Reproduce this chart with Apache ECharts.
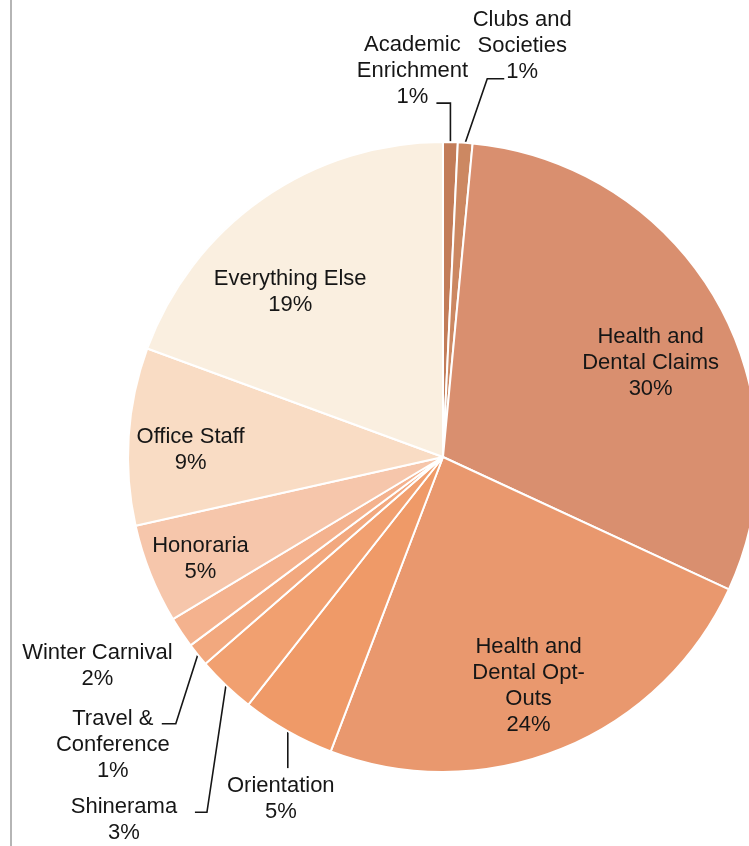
<!DOCTYPE html>
<html><head><meta charset="utf-8">
<style>html,body{margin:0;padding:0;background:#fff}#chart{width:749px;height:846px}</style>
<script src="https://cdn.jsdelivr.net/npm/echarts@6/dist/echarts.min.js"></script>
</head><body><div id="chart"></div>
<script>
// ---- data ----
const categories = ['Academic Enrichment','Clubs and Societies','Health and Dental Claims','Health and Dental Opt-Outs','Orientation','Shinerama','Travel & Conference','Winter Carnival','Honoraria','Office Staff','Everything Else'];
const labelTexts = ['Academic\nEnrichment','Clubs and\nSocieties','Health and\nDental Claims','Health and\nDental Opt-\nOuts','Orientation','Shinerama','Travel &\nConference','Winter Carnival','Honoraria','Office Staff','Everything Else'];
const values = [0.75,0.75,30.4,23.9,4.8,3.0,1.2,1.6,5.1,9.1,19.4];

// ---- style ----
const colors = ['#c27c58','#cc8862','#d98f6f','#e9986e','#ef9a68','#f1a070','#f2a87e','#f4b28e','#f6c6ab','#f9dcc4','#faefe0'];
const CX = 443, CY = 457, R = 315;
// inside: radius factor + nudge; outside: leader legs + label offset from leader end
const placement = [
  {type:'out', leg1:[0,-39], leg2:-14, lab:[-24,-32]},
  {type:'out', leg1:[22,-64], leg2:17, lab:[18,-33]},
  {type:'in', rf:0.72, nudge:[11,19]},
  {type:'in', rf:0.78, nudge:[-7,1]},
  {type:'out', leg1:[0,37], leg2:0, lab:[-7,31]},
  {type:'out', leg1:[-19,127], leg2:-12, lab:[-71,8]},
  {type:'out', leg1:[-22,69], leg2:-14, lab:[-49,21]},
  {type:'free', lab:[-84,34]},
  {type:'in', rf:0.87, nudge:[12,0]},
  {type:'in', rf:0.80, nudge:[-1,10]},
  {type:'in', rf:0.72, nudge:[-23,21]}
];

const total = values.reduce((a,b)=>a+b,0);
const midAngles = [];
let acc = 0;
values.forEach(v => { midAngles.push((acc + v/2)/total*2*Math.PI); acc += v; });

const chart = echarts.init(document.getElementById('chart'), null, {renderer:'canvas'});
const data = categories.map((c,i) => ({
  name: c,
  value: values[i],
  itemStyle: {color: colors[i]},
  labelLine: {show: placement[i].type === 'out'}
}));

chart.setOption({
  animation: false,
  backgroundColor: '#fff',
  graphic: [{type:'line', shape:{x1:11,y1:0,x2:11,y2:846}, style:{stroke:'#9c9c9c', lineWidth:1.5}}],
  series: [{
    type: 'pie',
    center: [CX, CY],
    radius: [0, R],
    startAngle: 90,
    clockwise: true,
    avoidLabelOverlap: false,
    silent: true,
    emphasis: {disabled: true},
    itemStyle: {borderColor: '#fff', borderWidth: 2},
    label: {
      show: true,
      position: 'outside',
      formatter: p => labelTexts[p.dataIndex] + '\n' + Math.round(p.percent) + '%',
      fontFamily: '"Liberation Sans", Arial, Helvetica, sans-serif',
      fontSize: 22,
      lineHeight: 26,
      color: '#161616',
      align: 'center'
    },
    labelLine: {show: true, length: 10, length2: 10, smooth: false, lineStyle: {color: '#161616', width: 1.6}},
    labelLayout: function (params) {
      const i = params.dataIndex;
      const s = placement[i];
      const ux = Math.sin(midAngles[i]), uy = -Math.cos(midAngles[i]);
      if (s.type === 'in') {
        return {x: CX + s.rf*R*ux + s.nudge[0], y: CY + s.rf*R*uy + s.nudge[1], align:'center', verticalAlign:'middle'};
      }
      const ex = CX + R*ux, ey = CY + R*uy;
      if (s.type === 'free') {
        return {x: ex + s.lab[0], y: ey + s.lab[1], align:'center', verticalAlign:'middle'};
      }
      const p2 = [ex + s.leg1[0], ey + s.leg1[1]];
      const p3 = [p2[0] + s.leg2, p2[1]];
      return {
        x: p3[0] + s.lab[0], y: p3[1] + s.lab[1], align:'center', verticalAlign:'middle',
        labelLinePoints: [[ex, ey], p2, p3]
      };
    },
    data: data
  }]
});
</script>
</body></html>
